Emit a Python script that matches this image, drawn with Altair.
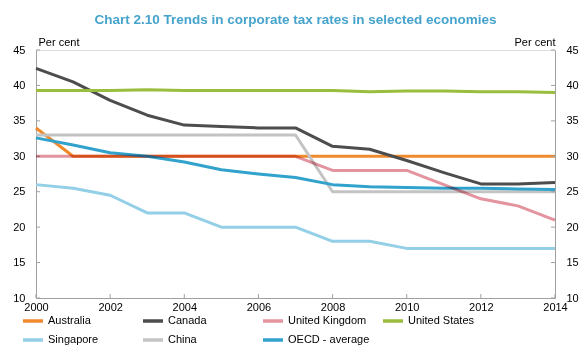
import altair as alt
import pandas as pd

years = list(range(2000, 2015))
australia = [34, 30, 30, 30, 30, 30, 30, 30, 30, 30, 30, 30, 30, 30, 30]
canada = [42.4, 40.5, 37.9, 35.8, 34.4, 34.2, 34.0, 34.0, 31.4, 31.0, 29.4, 27.7, 26.1, 26.1, 26.3]
uk = [30, 30, 30, 30, 30, 30, 30, 30, 28, 28, 28, 26, 24, 23, 21]
us = [39.3, 39.3, 39.3, 39.4, 39.3, 39.3, 39.3, 39.3, 39.3, 39.1, 39.2, 39.2, 39.1, 39.1, 39.0]
singapore = [26, 25.5, 24.5, 22, 22, 20, 20, 20, 18, 18, 17, 17, 17, 17, 17]
china = [33, 33, 33, 33, 33, 33, 33, 33, 25, 25, 25, 25, 25, 25, 25]
oecd = [32.6, 31.6, 30.5, 30.0, 29.2, 28.1, 27.5, 27.0, 26.0, 25.7, 25.6, 25.5, 25.5, 25.4, 25.3]

series_names = ["Australia", "Canada", "United Kingdom", "United States",
                "Singapore", "China", "OECD - average"]
series_values = [australia, canada, uk, us, singapore, china, oecd]
colors = ["#f08a2c", "#4d4d4d", "#e3949f", "#9bbd3e", "#93cfe6", "#c3c3c3", "#30a2cc"]

x_ticks = [2000, 2002, 2004, 2006, 2008, 2010, 2012, 2014]
y_ticks = [10, 15, 20, 25, 30, 35, 40, 45]

rows = []
for i, (name, vals) in enumerate(zip(series_names, series_values)):
    for yr, v in zip(years, vals):
        rows.append({"year": yr, "value": v, "series": name, "order": i})
df = pd.DataFrame(rows)

FONT = "Liberation Sans"
W, H = 519, 248

xscale = alt.Scale(domain=[2000, 2014], nice=False, zero=False)
yscale = alt.Scale(domain=[10, 45], nice=False, zero=False)
color = alt.Color("series:N",
                  scale=alt.Scale(domain=series_names, range=colors),
                  sort=series_names,
                  legend=alt.Legend(title=None, orient="none", legendX=-15, legendY=259,
                                    direction="horizontal",
                                    columns=4, gridAlign="all", columnPadding=6,
                                    rowPadding=-8, symbolType="M-1,0L1,0", symbolSize=400,
                                    symbolStrokeWidth=3.5, labelFontSize=11,
                                    labelFont=FONT, labelColor="#000000", labelOffset=3))

x_axis = alt.Axis(values=x_ticks, format="d", title=None, grid=False,
                  tickSize=0, labelPadding=3, labelFontSize=11, labelFont=FONT,
                  labelColor="#000000", domainColor="#a0a0a0", labelFlush=False)
x_enc = alt.X("year:Q", scale=xscale, axis=x_axis)

y_left = alt.Y("value:Q", scale=yscale,
               axis=alt.Axis(values=y_ticks, title="Per cent", grid=False, tickSize=0,
                             labelPadding=11, labelFontSize=11, labelFont=FONT,
                             labelColor="#000000", domainColor="#a0a0a0",
                             titleAngle=0, titleX=2, titleY=-5, titleAlign="left",
                             titleBaseline="alphabetic", titleFontSize=11,
                             titleFont=FONT, titleFontWeight="normal",
                             titleColor="#000000", orient="left"))

base = alt.Chart(df)

lines = base.transform_filter(alt.datum.series != "United Kingdom").mark_line(
    strokeWidth=3, strokeJoin="round"
).encode(x=x_enc, y=y_left, color=color, order="order:Q")

uk_line = base.transform_filter(alt.datum.series == "United Kingdom").mark_line(
    strokeWidth=3, strokeJoin="round", blend="multiply"
).encode(x=x_enc, y=alt.Y("value:Q", scale=yscale, axis=None), color=color)

right_axis = base.mark_line(opacity=0).encode(
    x=x_enc,
    y=alt.Y("value:Q", scale=yscale,
            axis=alt.Axis(values=y_ticks, title="Per cent", grid=False, tickSize=0,
                          labelPadding=11, labelFontSize=11, labelFont=FONT,
                          labelColor="#000000", domainColor="#a0a0a0",
                          titleAngle=0, titleX=0, titleY=-5, titleAlign="right",
                          titleBaseline="alphabetic", titleFontSize=11,
                          titleFont=FONT, titleFontWeight="normal",
                          titleColor="#000000", orient="right")),
    detail="series:N",
)

ytick_df = pd.DataFrame({"v": y_ticks})
xtick_df = pd.DataFrame({"year": x_ticks})

left_ticks = alt.Chart(ytick_df).mark_rule(color="#a0a0a0").encode(
    y=alt.Y("v:Q", scale=yscale, axis=None), x=alt.value(0), x2=alt.value(4))
right_ticks = alt.Chart(ytick_df).mark_rule(color="#a0a0a0").encode(
    y=alt.Y("v:Q", scale=yscale, axis=None), x=alt.value(W), x2=alt.value(W - 4))
bottom_ticks = alt.Chart(xtick_df).mark_rule(color="#a0a0a0").encode(
    x=x_enc, y=alt.value(H), y2=alt.value(H - 4))

chart = alt.layer(
    lines, left_ticks, right_ticks, bottom_ticks, uk_line, right_axis
).resolve_axis(y="independent").properties(
    width=W, height=H,
    title=alt.TitleParams("Chart 2.10 Trends in corporate tax rates in selected economies",
                          font=FONT, fontSize=13.5, fontWeight="bold", color="#45a3cc",
                          anchor="middle", offset=10),
    autosize=alt.AutoSizeParams(type="none"),
    padding={"left": 36, "top": 50, "right": 31, "bottom": 52},
).configure_view(stroke=None).configure(background="white")

chart.save("out.html", embed_options={"renderer": "svg", "actions": False})
